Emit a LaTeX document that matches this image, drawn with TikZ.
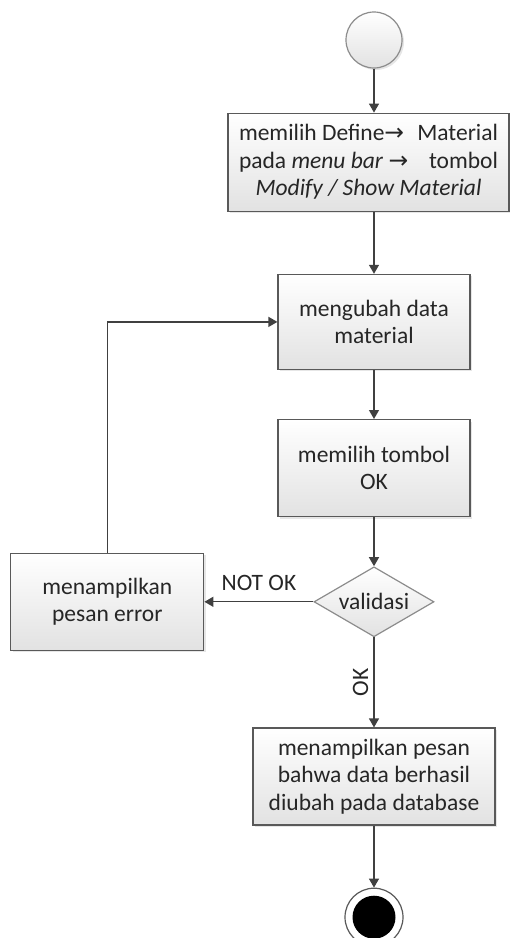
\documentclass[tikz,border=0pt]{standalone}
\usepackage{fontspec}
\setmainfont{Carlito}
\newfontfamily\symfont{DejaVu Sans}
\usepackage{tikz}
\usetikzlibrary{shapes.geometric, arrows.meta, positioning, calc, shadows}
\definecolor{umlline}{HTML}{404040}
\definecolor{umlborder}{HTML}{595959}
\definecolor{umllight}{HTML}{8C8C8C}
\definecolor{umltext}{HTML}{262626}
\definecolor{umlshade}{HTML}{E2E2E2}
\newcommand{\menuarrow}{{\symfont\char"2192}}

\begin{document}
\begin{tikzpicture}[
  font=\fontsize{23.5}{27.5}\selectfont,
  text=umltext,
  act/.style={draw=umlborder, line width=1.2pt, top color=white, bottom color=umlshade,
              align=center, inner sep=0pt, minimum width=192pt, minimum height=97pt,
              drop shadow={opacity=0.2, shadow xshift=2pt, shadow yshift=-2pt}},
  dec/.style={diamond, draw=umllight, line width=1.2pt, top color=white, bottom color=umlshade,
              inner sep=0pt, aspect=1.7, minimum width=120pt, minimum height=70pt},
  initial/.style={circle, draw=umllight, line width=1.2pt, top color=white, bottom color=umlshade,
                  minimum size=56pt, inner sep=0pt,
                  drop shadow={opacity=0.2, shadow xshift=2pt, shadow yshift=-2pt}},
  lbl/.style={inner sep=2pt, font=\fontsize{23.5}{27.5}\selectfont},
  arr/.style={-{Triangle[length=9pt,width=10pt]}, line width=1.3pt, draw=umlline}
]
\useasboundingbox (0,0) rectangle (510pt,-938pt);

\node[initial] (start) at (374pt,-40pt) {};
\node[act, below=44pt of start, xshift=-5.5pt, minimum width=281pt, minimum height=98pt] (define)
  {\makebox[259pt]{memilih Define\menuarrow\hfill Material}\\
   \makebox[259pt]{pada \textit{menu bar} \menuarrow\hfill tombol}\\
   \textit{Modify / Show Material}};
\node[act, below=62pt of define, xshift=5.5pt, minimum height=95pt] (edit) {mengubah data\\material};
\node[act, below=49pt of edit] (pickok) {memilih tombol\\OK};
\node[dec, below=49pt of pickok] (valid) {validasi};
\node[act, left=109pt of valid, minimum width=193pt] (err) {menampilkan\\pesan error};
\node[act, below=90pt of valid, minimum width=242pt] (done)
  {menampilkan pesan\\bahwa data berhasil\\diubah pada database};
\node[circle, draw=umlborder, line width=1.2pt, fill=white, minimum size=58pt, inner sep=0pt,
      below=62pt of done] (end) {};
\node[circle, fill=black, minimum size=43pt, inner sep=0pt] (endDot) at (end) {};

\draw[arr] (start) -- (start |- define.north);
\draw[arr] (define.south -| edit) -- (edit);
\draw[arr] (edit) -- (pickok);
\draw[arr] (pickok) -- (valid);
\draw[arr] (valid) -- node[lbl, above=8pt] {NOT OK} (err);
\draw[arr] (err) |- (edit);
\draw[arr] (valid) -- node[lbl, midway, rotate=90, anchor=south, inner sep=5pt] {OK} (done);
\draw[arr] (done) -- (end);
\end{tikzpicture}
\end{document}
